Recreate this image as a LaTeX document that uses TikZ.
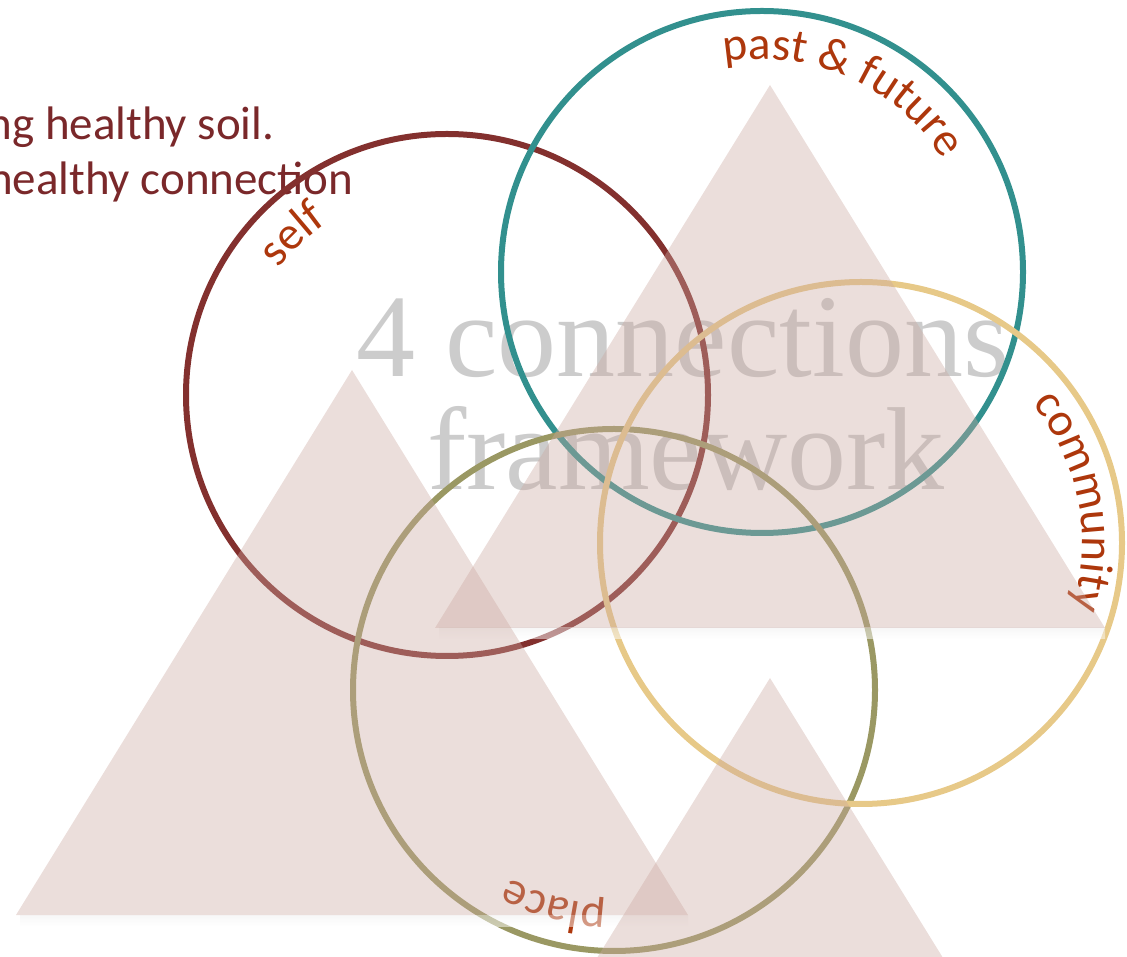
\documentclass[tikz,border=0pt]{standalone}
\usepackage{fontspec}
\setmainfont{Carlito}
\newfontfamily\titlefont{Liberation Serif}
\usepackage{xcolor}
\usetikzlibrary{calc,decorations.text}
\definecolor{selfcol}{RGB}{131,48,46}
\definecolor{pastcol}{RGB}{50,144,142}
\definecolor{commcol}{RGB}{231,201,136}
\definecolor{placecol}{RGB}{154,152,99}
\definecolor{lblcol}{RGB}{173,55,12}
\definecolor{headcol}{RGB}{122,40,42}
\definecolor{titlecol}{RGB}{204,204,204}
\definecolor{hillcol}{RGB}{203,168,160}
\newcommand{\lblfont}{\fontsize{47}{56}\selectfont\color{lblcol}}

\tikzset{
  ring/.style={circle, draw=#1, line width=6pt, minimum size=522pt, inner sep=0pt},
  hill/.style={fill=hillcol, fill opacity=0.38},
  hillshadow/.style={top color=black!6, bottom color=white, opacity=0.5},
  headline/.style={anchor=base east, text=headcol, font=\fontsize{47}{56}\selectfont},
  bigtitle/.style={anchor=base, text=titlecol, font=\titlefont\fontsize{118}{136}\selectfont},
}

\begin{document}
\begin{tikzpicture}[x=1pt, y=1pt]
        \useasboundingbox (0,0) rectangle (1127,956);
        \clip (0,0) rectangle (1127,956);

        % Heading, cut by the left edge
        \node[headline] (head1) at (278,816) {ng healthy soil.};
        \node[headline] (head2) at (357,761) {healthy connection};

        % Title behind the rings
        \node[bigtitle] (title1) at (683,579) {4 connections};
        \node[bigtitle] (title2) at (686,466) {framework};

        % The four rings
        \node[ring=selfcol] (self) at (447,561) {};
        \node[ring=pastcol] (past) at (762,684) {};
        \node[ring=placecol] (place) at (614,266) {};
        \node[ring=commcol] (comm) at (861,413) {};

        % Ring labels
        \path[decorate, decoration={text along path, text align=center, text={|\lblfont|self}}]
          ($(self.center)+(164:210)$) arc[start angle=164, end angle=104, radius=210];
        \path[decorate, decoration={text along path, text align=center, text={|\lblfont|past {\&} future}}]
          ($(past.center)+(120:213)$) arc[start angle=120, end angle=12, radius=213];
        \path[decorate, decoration={text along path, text align=center, text={|\lblfont|community}}]
          ($(comm.center)+(50:221)$) arc[start angle=50, end angle=-28, radius=221];
        \path[decorate, decoration={text along path, text align=center, text={|\lblfont|place}}]
          ($(place.center)+(-75:215)$) arc[start angle=-75, end angle=-136, radius=215];

        % Hills over everything
        \shade[hillshadow] (20,41) rectangle (688,30);
        \shade[hillshadow] (439,328) rectangle (1105,317);
        \fill[hill] (16,41) -- (352,586) -- (688,41) -- cycle;
        \fill[hill] (435,328) -- (770,871) -- (1105,328) -- cycle;
        \fill[hill] (571,-44) -- (770,278) -- (969,-44) -- cycle;
\end{tikzpicture}
\end{document}
